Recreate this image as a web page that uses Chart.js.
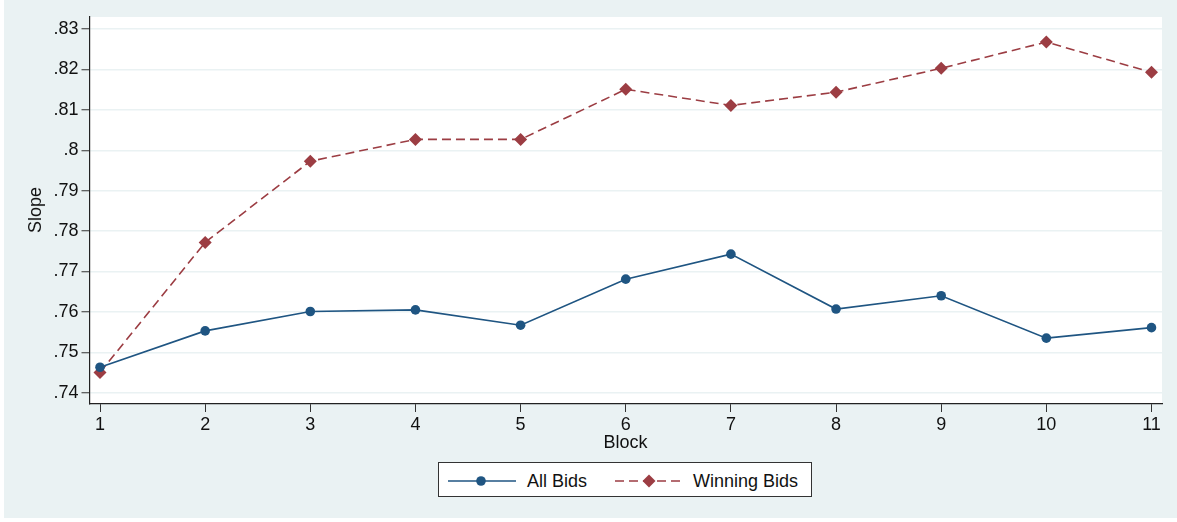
<!DOCTYPE html>
<html>
<head>
<meta charset="utf-8">
<script src="https://cdn.jsdelivr.net/npm/chart.js@4.4.0/dist/chart.umd.min.js"></script>
<style>
  html, body { margin:0; padding:0; background:#ffffff; }
  #wrap { position:absolute; left:0; top:0; width:1177px; height:522px; }
  #bg { position:absolute; left:4px; top:0; width:1173px; height:518px; background:#eaf2f3; }
  canvas { position:absolute; left:0; top:0; }
  .txt { position:absolute; font-family:"Liberation Sans", Arial, Helvetica, sans-serif; font-size:18px; line-height:20px; color:#111; white-space:nowrap; }
  #legend { position:absolute; left:438px; top:462px; width:372px; height:33px; background:#fff; border:1px solid #333; }
</style>
</head>
<body>
<div id="wrap">
  <div id="bg"></div>
  <canvas id="c" width="1177" height="522"></canvas>
  <div class="txt" id="xtitle" style="left:625.5px; top:432px; transform:translateX(-50%);">Block</div>
  <div class="txt" id="ytitle" style="left:35px; top:210px; transform:translate(-50%,-50%) rotate(-90deg);">Slope</div>
  <div id="legend">
    <svg width="372" height="33" style="position:absolute;left:0;top:0">
      <line x1="9" y1="18" x2="77" y2="18" stroke="#1f5582" stroke-width="1.6"/>
      <circle cx="42" cy="18" r="4.8" fill="#1f5582"/>
      <line x1="176" y1="18" x2="244" y2="18" stroke="#9c3d43" stroke-width="1.6" stroke-dasharray="9,5"/>
      <polygon points="210,11.5 216.5,18 210,24.5 203.5,18" fill="#9c3d43"/>
    </svg>
    <div class="txt" style="left:88px; top:8px;">All Bids</div>
    <div class="txt" style="left:254px; top:8px;">Winning Bids</div>
  </div>
</div>
<script>
const blocks = [1, 2, 3, 4, 5, 6, 7, 8, 9, 10, 11];
const allBids = [0.7463, 0.7553, 0.7601, 0.7605, 0.7567, 0.7681, 0.7743, 0.7607, 0.7640, 0.7535, 0.7561];
const winningBids = [0.7450, 0.7772, 0.7973, 0.8027, 0.8027, 0.8151, 0.8111, 0.8144, 0.8203, 0.8268, 0.8193];
const yTickValues = [0.74, 0.75, 0.76, 0.77, 0.78, 0.79, 0.80, 0.81, 0.82, 0.83];

const toPts = arr => blocks.map((b, i) => ({ x: b, y: arr[i] }));
const FONT = { family: '"Liberation Sans", Arial, Helvetica, sans-serif', size: 18 };

const plotBg = {
  id: 'plotBg',
  beforeDraw(chart) {
    const { ctx, chartArea: a } = chart;
    ctx.save();
    ctx.fillStyle = '#ffffff';
    ctx.fillRect(a.left, a.top, a.right - a.left, a.bottom - a.top);
    ctx.restore();
  }
};

new Chart(document.getElementById('c'), {
  type: 'line',
  data: {
    datasets: [
      {
        label: 'All Bids',
        data: toPts(allBids),
        borderColor: '#1f5582',
        backgroundColor: '#1f5582',
        borderWidth: 1.6,
        pointStyle: 'circle',
        pointRadius: 4.8,
        pointBorderWidth: 0,
        tension: 0
      },
      {
        label: 'Winning Bids',
        data: toPts(winningBids),
        borderColor: '#9c3d43',
        backgroundColor: '#9c3d43',
        borderWidth: 1.6,
        borderDash: [9, 5],
        pointStyle: 'rectRot',
        pointRadius: 6.5,
        pointBorderWidth: 0,
        tension: 0
      }
    ]
  },
  options: {
    responsive: false,
    animation: false,
    layout: { padding: { left: 0, top: 17, right: 15, bottom: 0 } },
    plugins: { legend: { display: false }, tooltip: { enabled: false } },
    scales: {
      x: {
        type: 'linear',
        min: 0.9, max: 11.1,
        afterBuildTicks: s => { s.ticks = blocks.map(v => ({ value: v })); },
        afterFit: s => { s.height = 118; },
        grid: { display: true, drawOnChartArea: false, drawTicks: true, tickLength: 8, tickColor: '#333', tickWidth: 1 },
        border: { color: '#222', width: 1.2 },
        ticks: { font: FONT, color: '#111', padding: 2, maxRotation: 0, autoSkip: false,
                 callback: v => String(v) }
      },
      y: {
        type: 'linear',
        min: 0.7372, max: 0.833,
        afterBuildTicks: s => { s.ticks = yTickValues.map(v => ({ value: v })); },
        afterFit: s => { s.width = 89.5; },
        grid: { color: '#eaf2f3', lineWidth: 1.5, drawTicks: true, tickLength: 8, tickColor: '#333', tickWidth: 1 },
        border: { color: '#222', width: 1.2 },
        ticks: { font: FONT, color: '#111', padding: 3, autoSkip: false,
                 callback: v => { let s = (Math.round(v * 100) / 100).toString(); return s.replace(/^0/, ''); } }
      }
    }
  },
  plugins: [plotBg]
});
</script>
</body>
</html>
